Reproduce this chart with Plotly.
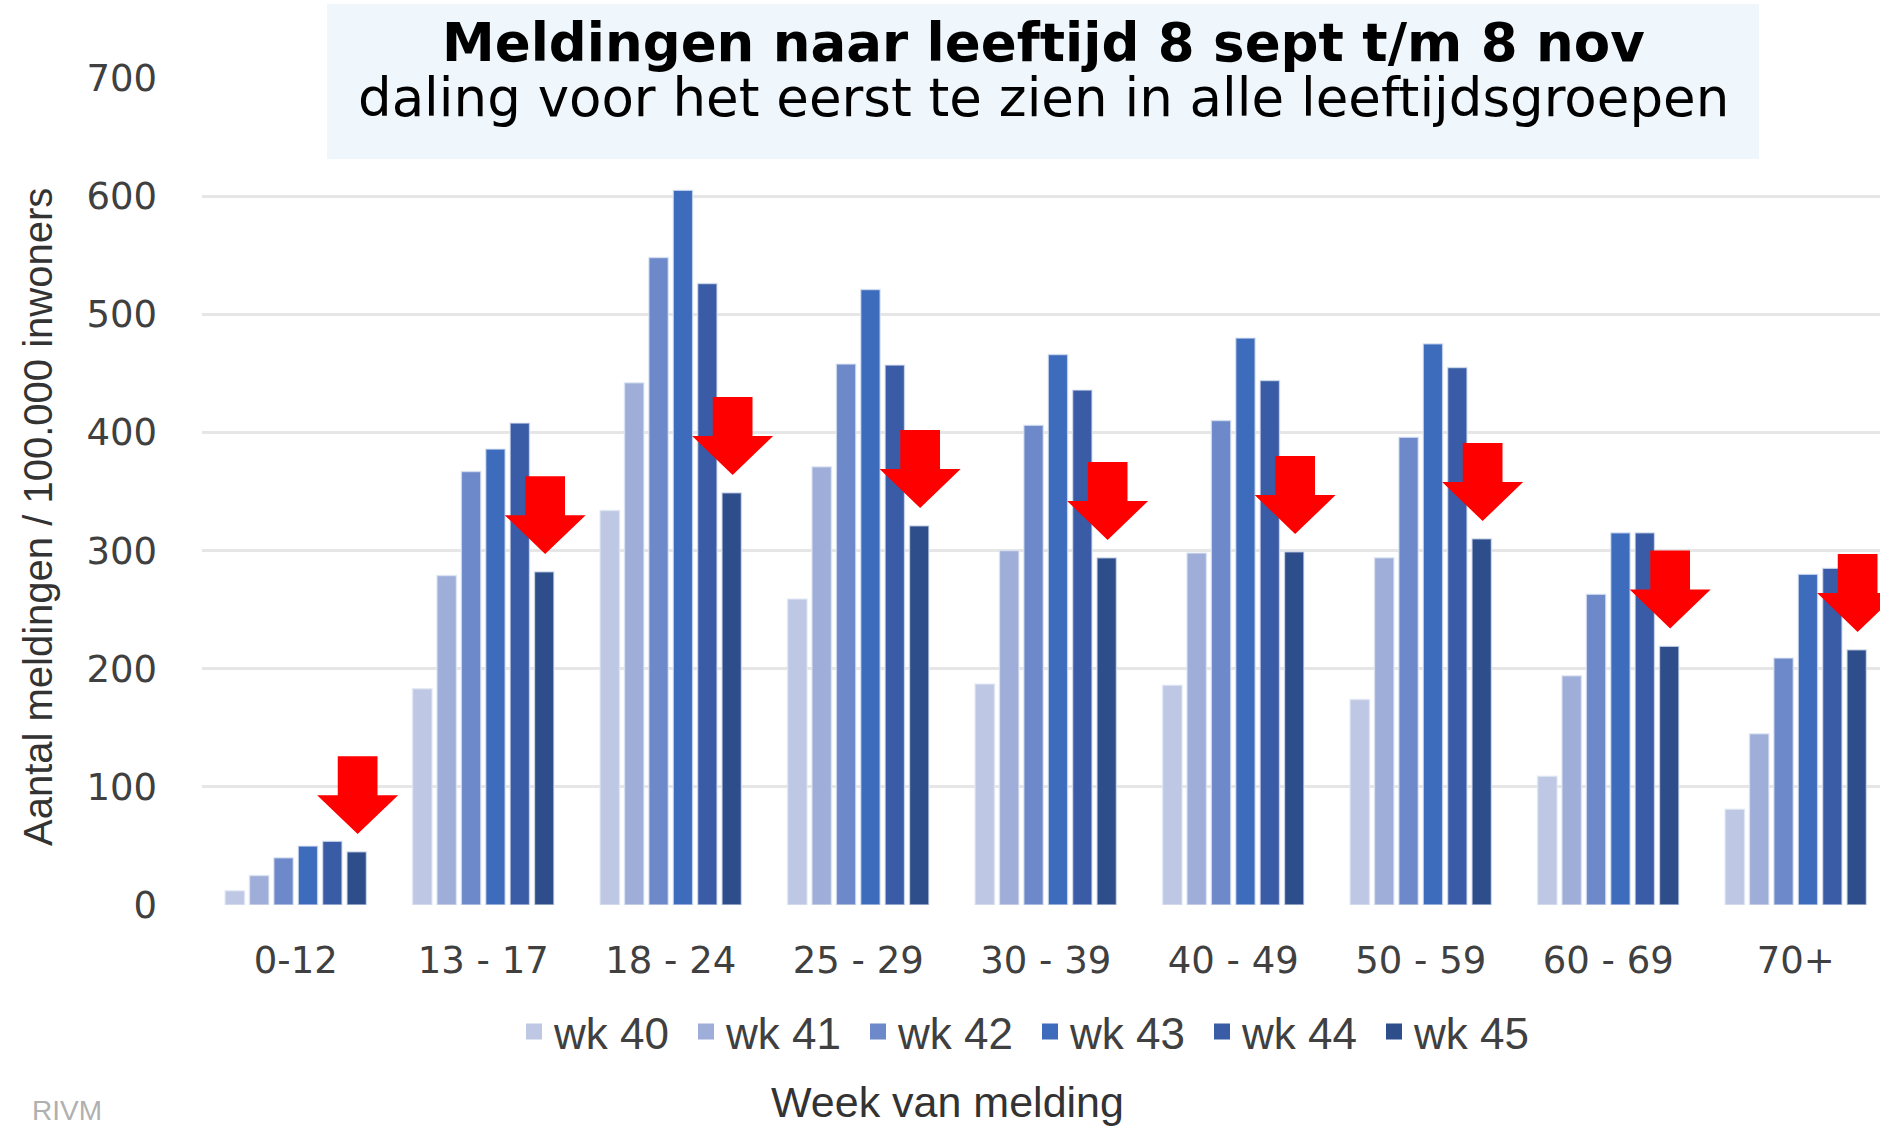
import plotly.graph_objects as go

W, H = 1880, 1129

categories = ["0-12", "13 - 17", "18 - 24", "25 - 29", "30 - 39", "40 - 49", "50 - 59", "60 - 69", "70+"]
weeks = ["wk 40", "wk 41", "wk 42", "wk 43", "wk 44", "wk 45"]
wk40 = [12, 183, 334, 259, 187, 186, 174, 109, 81]
wk41 = [25, 279, 442, 371, 300, 298, 294, 194, 145]
wk42 = [40, 367, 548, 458, 406, 410, 396, 263, 209]
wk43 = [50, 386, 605, 521, 466, 480, 475, 315, 280]
wk44 = [54, 408, 526, 457, 436, 444, 455, 315, 285]
wk45 = [45, 282, 349, 321, 294, 299, 310, 219, 216]
series = [wk40, wk41, wk42, wk43, wk44, wk45]
y_ticks = [0, 100, 200, 300, 400, 500, 600, 700]

colors = ["#BEC8E4", "#9FAED9", "#6E89CA", "#3E6CBD", "#3A5CA6", "#2D4D8B"]

title_main = "Meldingen naar leeftijd 8 sept t/m 8 nov"
title_sub = "daling voor het eerst te zien in alle leeftijdsgroepen"
y_title = "Aantal meldingen / 100.000 inwoners"
x_title = "Week van melding"
source = "RIVM"

# layout geometry (pixels)
L, R, T, B = 202, 0, 78, 224
PW = W - L - R
PH = H - T - B
CAT_PX = 187.5


def px_x(X):
    return (X - L) / PW


def px_y(Y):
    return (H - B - Y) / PH


NARROW = "Liberation Sans Narrow, Arial Narrow, Liberation Sans, sans-serif"
WIDE = "DejaVu Sans, Verdana, sans-serif"

x_idx = list(range(len(categories)))

fig = go.Figure()
for name, vals, col in zip(weeks, series, colors):
    fig.add_trace(go.Bar(
        x=x_idx, y=vals, name=name, showlegend=False, legendgroup=name,
        marker=dict(color=col, line=dict(color="rgba(225,232,244,0.7)", width=1.5)),
    ))
# legend entries with larger square swatches
for name, col in zip(weeks, colors):
    fig.add_trace(go.Scatter(
        x=[None], y=[None], mode="markers", name=name, legendgroup=name,
        marker=dict(symbol="square", size=16, color=col), showlegend=True,
    ))

# red arrows above the last week's bar
arrow_dx, arrow_gap = 0.33, 15
box_hw, head_hw, seg_h = 0.106, 0.216, 33
for i, v in enumerate(wk45):
    cx = i + arrow_dx
    tip = v + arrow_gap
    path = (f"M {cx-box_hw},{tip+2*seg_h} L {cx+box_hw},{tip+2*seg_h} "
            f"L {cx+box_hw},{tip+seg_h} L {cx+head_hw},{tip+seg_h} L {cx},{tip} "
            f"L {cx-head_hw},{tip+seg_h} L {cx-box_hw},{tip+seg_h} Z")
    fig.add_shape(type="path", path=path, xref="x", yref="y",
                  fillcolor="#FF0000", line=dict(width=0), layer="above")

# title box
fig.add_shape(type="rect", xref="paper", yref="paper",
              x0=px_x(327), x1=px_x(1759), y0=px_y(159), y1=px_y(4),
              fillcolor="rgba(238,246,253,0.93)", line=dict(width=0), layer="above")

annotations = [
    dict(text=f"<b>{title_main}</b>", x=px_x(1043), y=px_y(42), xref="paper", yref="paper",
         xanchor="center", yanchor="middle", showarrow=False,
         font=dict(family=WIDE, size=53, color="#000000")),
    dict(text=title_sub, x=px_x(1043), y=px_y(98), xref="paper", yref="paper",
         xanchor="center", yanchor="middle", showarrow=False,
         font=dict(family=WIDE, size=53, color="#000000")),
    dict(text=y_title, x=px_x(38), y=px_y(517), xref="paper", yref="paper",
         xanchor="center", yanchor="middle", textangle=-90, showarrow=False,
         font=dict(family=NARROW, size=40, color="#333333")),
    dict(text=x_title, x=px_x(947), y=px_y(1128), xref="paper", yref="paper",
         xanchor="center", yanchor="bottom", showarrow=False,
         font=dict(family=NARROW, size=43, color="#333333")),
    dict(text=source, x=px_x(30), y=px_y(1128), xref="paper", yref="paper",
         xanchor="left", yanchor="bottom", showarrow=False,
         font=dict(family="Liberation Sans, sans-serif", size=28, color="#B0B0B0")),
]

fig.update_layout(
    width=W, height=H,
    margin=dict(l=L, r=R, t=T, b=B, pad=0, autoexpand=False),
    paper_bgcolor="#FFFFFF", plot_bgcolor="#FFFFFF",
    barmode="group", bargap=0.22, bargroupgap=0.2,
    showlegend=True,
    legend=dict(orientation="h", x=px_x(1030), xanchor="center", y=px_y(1032), yanchor="middle",
                font=dict(family=NARROW, size=44, color="#404040"),
                itemwidth=30, entrywidth=127, traceorder="normal", bgcolor="rgba(0,0,0,0)"),
    annotations=annotations,
    xaxis=dict(range=[-0.5, -0.5 + PW / CAT_PX], tickmode="array", tickvals=x_idx,
               ticktext=categories, showgrid=False, zeroline=False, showline=False,
               ticks="", ticklabelstandoff=30, automargin=False,
               tickfont=dict(family=WIDE, size=37, color="#404040")),
    yaxis=dict(range=[0, 700], tickmode="array", tickvals=y_ticks,
               showgrid=True, gridcolor="#E6E6E6", gridwidth=3, zeroline=False,
               showline=False, ticks="", ticklabelstandoff=44, automargin=False,
               tickfont=dict(family=WIDE, size=37, color="#404040")),
)

fig.write_html("out.html", config={"displayModeBar": False},
               post_script="document.body.style.margin='0px';document.body.style.overflow='hidden';")
